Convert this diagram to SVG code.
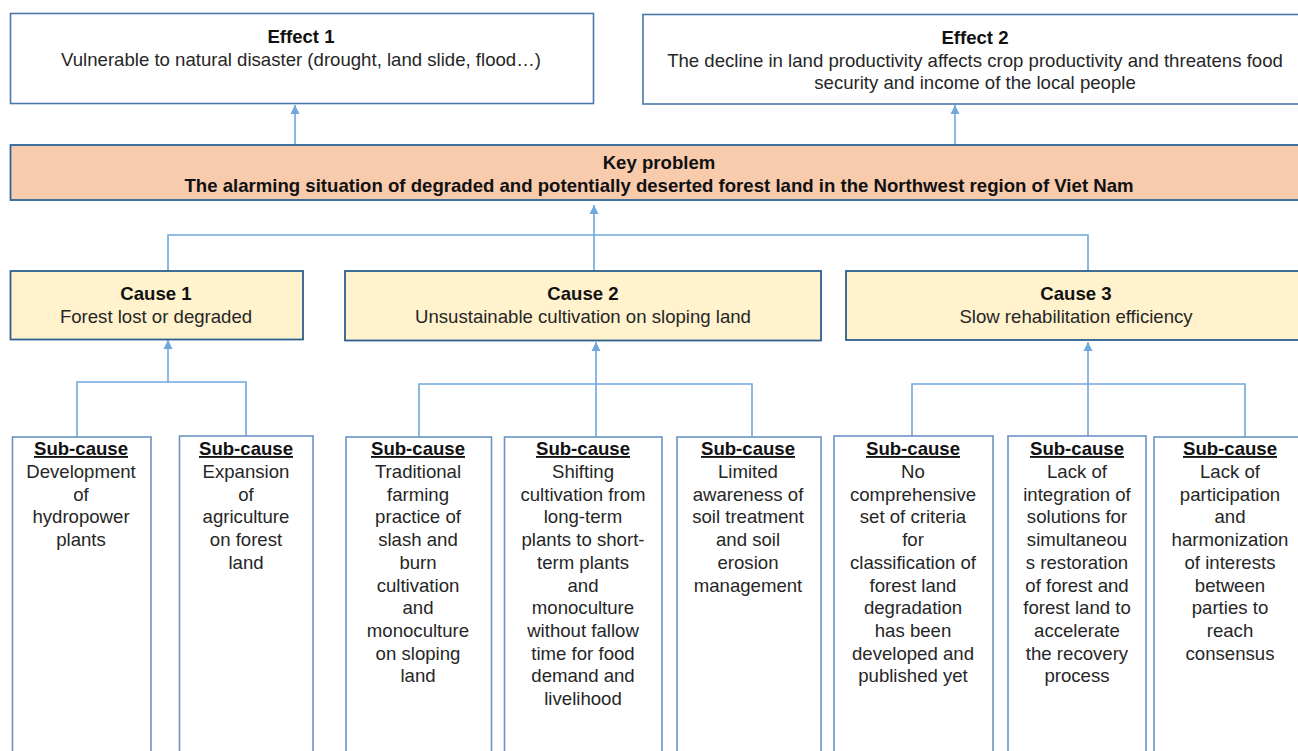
<svg xmlns="http://www.w3.org/2000/svg" width="1298" height="751" viewBox="0 0 1298 751">
<defs>
<style>
text{font-family:"Liberation Sans",Arial,sans-serif;font-size:18.6px;text-anchor:middle;fill:#262626}
.b{font-weight:bold;fill:#111}
.u{text-decoration:underline}
.eff{fill:#fff;stroke:#4a78ab;stroke-width:1.6}
.key{fill:#f8cbad;stroke:#2f6496;stroke-width:1.8}
.cause{fill:#fff2cc;stroke:#2c5f8e;stroke-width:1.8}
.sub{fill:#fff;stroke:#6a93c4;stroke-width:1.6}
.con{fill:none;stroke:#6fa8dc;stroke-width:1.6}
</style>
<marker id="arr" markerUnits="userSpaceOnUse" markerWidth="10" markerHeight="10" refX="9" refY="5" orient="auto">
<path d="M0,0.5 L9,5 L0,9.5 Z" fill="#6fa8dc"/>
</marker>
</defs>
<rect width="1298" height="751" fill="#fff"/>

<g id="connectors">
<path class="con" d="M295 145 V105" marker-end="url(#arr)"/>
<path class="con" d="M955 145 V105" marker-end="url(#arr)"/>
<path class="con" d="M168 271 V235 H1088 V271"/>
<path class="con" d="M594 271 V205" marker-end="url(#arr)"/>
<path class="con" d="M77 437 V382 H246 V437"/>
<path class="con" d="M168 382 V340" marker-end="url(#arr)"/>
<path class="con" d="M419 437 V384 H752 V437"/>
<path class="con" d="M596 437 V342" marker-end="url(#arr)"/>
<path class="con" d="M912 437 V384 H1245 V437"/>
<path class="con" d="M1088 437 V342" marker-end="url(#arr)"/>
</g>

<g id="effect1">
<rect class="eff" x="10.5" y="13.5" width="583" height="90"/>
<text class="b" x="301" y="43">Effect 1</text>
<text x="301" y="65.5">Vulnerable to natural disaster (drought, land slide, flood…)</text>
</g>

<g id="effect2">
<rect class="eff" x="643" y="14.5" width="665" height="89.5"/>
<text class="b" x="975" y="44">Effect 2</text>
<text x="975" y="66.5">The decline in land productivity affects crop productivity and threatens food</text>
<text x="975" y="89">security and income of the local people</text>
</g>

<g id="key-problem">
<rect class="key" x="10.5" y="145" width="1300" height="55"/>
<text class="b" x="659" y="169">Key problem</text>
<text class="b" x="659" y="192">The alarming situation of degraded and potentially deserted forest land in the Northwest region of Viet Nam</text>
</g>

<g id="cause1">
<rect class="cause" x="10.5" y="271" width="292.5" height="68.5"/>
<text class="b" x="156" y="300">Cause 1</text>
<text x="156" y="323">Forest lost or degraded</text>
</g>

<g id="cause2">
<rect class="cause" x="345" y="271" width="476" height="69.5"/>
<text class="b" x="583" y="300">Cause 2</text>
<text x="583" y="323">Unsustainable cultivation on sloping land</text>
</g>

<g id="cause3">
<rect class="cause" x="846" y="271" width="462" height="69"/>
<text class="b" x="1076" y="300">Cause 3</text>
<text x="1076" y="323">Slow rehabilitation efficiency</text>
</g>

<g id="sub1">
<rect class="sub" x="12.5" y="437" width="138.5" height="330"/>
<text class="b u" x="81" y="455">Sub-cause</text>
<text x="81" y="478">Development</text>
<text x="81" y="500.7">of</text>
<text x="81" y="523.4">hydropower</text>
<text x="81" y="546.1">plants</text>
</g>

<g id="sub2">
<rect class="sub" x="179.5" y="436" width="133.5" height="330"/>
<text class="b u" x="246" y="455">Sub-cause</text>
<text x="246" y="478">Expansion</text>
<text x="246" y="500.7">of</text>
<text x="246" y="523.4">agriculture</text>
<text x="246" y="546.1">on forest</text>
<text x="246" y="568.8">land</text>
</g>

<g id="sub3">
<rect class="sub" x="346" y="437" width="145.5" height="330"/>
<text class="b u" x="418" y="455">Sub-cause</text>
<text x="418" y="478">Traditional</text>
<text x="418" y="500.7">farming</text>
<text x="418" y="523.4">practice of</text>
<text x="418" y="546.1">slash and</text>
<text x="418" y="568.8">burn</text>
<text x="418" y="591.5">cultivation</text>
<text x="418" y="614.2">and</text>
<text x="418" y="636.9">monoculture</text>
<text x="418" y="659.6">on sloping</text>
<text x="418" y="682.3">land</text>
</g>

<g id="sub4">
<rect class="sub" x="504.5" y="437" width="157.5" height="330"/>
<text class="b u" x="583" y="455">Sub-cause</text>
<text x="583" y="478">Shifting</text>
<text x="583" y="500.7">cultivation from</text>
<text x="583" y="523.4">long-term</text>
<text x="583" y="546.1">plants to short-</text>
<text x="583" y="568.8">term plants</text>
<text x="583" y="591.5">and</text>
<text x="583" y="614.2">monoculture</text>
<text x="583" y="636.9">without fallow</text>
<text x="583" y="659.6">time for food</text>
<text x="583" y="682.3">demand and</text>
<text x="583" y="705">livelihood</text>
</g>

<g id="sub5">
<rect class="sub" x="677" y="437" width="144" height="330"/>
<text class="b u" x="748" y="455">Sub-cause</text>
<text x="748" y="478">Limited</text>
<text x="748" y="500.7">awareness of</text>
<text x="748" y="523.4">soil treatment</text>
<text x="748" y="546.1">and soil</text>
<text x="748" y="568.8">erosion</text>
<text x="748" y="591.5">management</text>
</g>

<g id="sub6">
<rect class="sub" x="834" y="436" width="159" height="330"/>
<text class="b u" x="913" y="455">Sub-cause</text>
<text x="913" y="478">No</text>
<text x="913" y="500.7">comprehensive</text>
<text x="913" y="523.4">set of criteria</text>
<text x="913" y="546.1">for</text>
<text x="913" y="568.8">classification of</text>
<text x="913" y="591.5">forest land</text>
<text x="913" y="614.2">degradation</text>
<text x="913" y="636.9">has been</text>
<text x="913" y="659.6">developed and</text>
<text x="913" y="682.3">published yet</text>
</g>

<g id="sub7">
<rect class="sub" x="1008" y="436" width="138" height="330"/>
<text class="b u" x="1077" y="455">Sub-cause</text>
<text x="1077" y="478">Lack of</text>
<text x="1077" y="500.7">integration of</text>
<text x="1077" y="523.4">solutions for</text>
<text x="1077" y="546.1">simultaneou</text>
<text x="1077" y="568.8">s restoration</text>
<text x="1077" y="591.5">of forest and</text>
<text x="1077" y="614.2">forest land to</text>
<text x="1077" y="636.9">accelerate</text>
<text x="1077" y="659.6">the recovery</text>
<text x="1077" y="682.3">process</text>
</g>

<g id="sub8">
<rect class="sub" x="1154" y="437" width="154" height="330"/>
<text class="b u" x="1230" y="455">Sub-cause</text>
<text x="1230" y="478">Lack of</text>
<text x="1230" y="500.7">participation</text>
<text x="1230" y="523.4">and</text>
<text x="1230" y="546.1">harmonization</text>
<text x="1230" y="568.8">of interests</text>
<text x="1230" y="591.5">between</text>
<text x="1230" y="614.2">parties to</text>
<text x="1230" y="636.9">reach</text>
<text x="1230" y="659.6">consensus</text>
</g>
</svg>
